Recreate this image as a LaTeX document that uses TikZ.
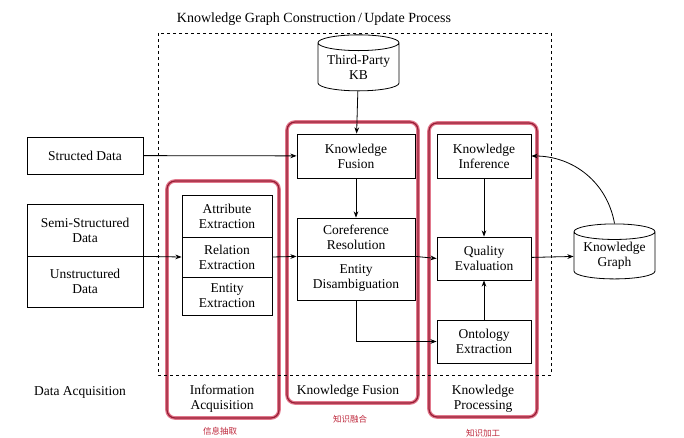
\documentclass[tikz,border=0pt]{standalone}
\usepackage{fontspec}
\setmainfont{Liberation Serif}
\newfontfamily\cjkfont{Noto Sans CJK SC}
\usetikzlibrary{shapes.geometric,arrows.meta,positioning}
\definecolor{grpred}{RGB}{150,28,52}
\definecolor{grpglow}{RGB}{226,120,140}
\definecolor{cnred}{RGB}{190,40,60}

\begin{document}
\begin{tikzpicture}[
        x=1pt, y=-1pt,
        font=\fontsize{13.5}{15}\selectfont,
        >={Stealth[length=2.2mm]},
        box/.style={rectangle, draw, align=center, inner sep=0pt, line width=0.8pt},
        db/.style={cylinder, shape border rotate=90, draw, aspect=0.25, align=center,
            inner sep=0pt, line width=0.8pt, minimum width=81, minimum height=56},
        grp/.style={rectangle, rounded corners=8pt, draw=grpred, line width=1.2pt,
            preaction={draw=grpglow, line width=3.6pt}},
        stage/.style={align=center, inner sep=0pt},
        cn/.style={font=\cjkfont\fontsize{8.5}{9}\selectfont, text=cnred, inner sep=0pt}
    ]
        \useasboundingbox (0,0) rectangle (684,438);

        % stage frames
        \node[grp, minimum width=112, minimum height=237] (acqgrp) at (223,299.5) {};
        \node[grp, minimum width=131, minimum height=281] (fusgrp) at (352.5,262.5) {};
        \node[grp, minimum width=108, minimum height=294] (progrp) at (483,270) {};
        \draw[dashed, line width=0.8pt] (158,33) rectangle (551,375);
        \node[inner sep=0pt, font=\fontsize{14}{15}\selectfont] (title) at (314,19) {Knowledge Graph Construction\,/\,Update Process};

        % data sources
        \node[box, minimum width=116, minimum height=37] (structed) at (85,155.5) {Structed Data};
        \node[box, minimum width=116, minimum height=52] (semi) at (85,230) {Semi-Structured\\Data};
        \node[box, minimum width=116, minimum height=51] (unstr) at (85,281.5) {Unstructured\\Data};

        % information acquisition
        \node[box, minimum width=90, minimum height=42] (attr) at (227,216) {Attribute\\Extraction};
        \node[box, minimum width=90, minimum height=40] (rel) at (227,257) {Relation\\Extraction};
        \node[box, minimum width=90, minimum height=38] (ent) at (227,296) {Entity\\Extraction};

        % knowledge fusion
        \node[db] (kb) at (358.5,67) {Third-Party\\KB};
        \node[box, minimum width=118, minimum height=44] (fusion) at (356,156) {Knowledge\\Fusion};
        \node[box, minimum width=118, minimum height=38] (coref) at (356,237) {Coreference\\Resolution};
        \node[box, minimum width=118, minimum height=44] (disamb) at (356,278) {Entity\\Disambiguation};

        % knowledge processing
        \node[box, minimum width=94, minimum height=44] (infer) at (484,156) {Knowledge\\Inference};
        \node[box, minimum width=94, minimum height=43] (quality) at (484,258.5) {Quality\\Evaluation};
        \node[box, minimum width=94, minimum height=43] (onto) at (484,341.5) {Ontology\\Extraction};
        \node[db, minimum height=55] (kg) at (614.5,255.5) {Knowledge\\Graph};

        % stage labels
        \node[stage] (lbldata) at (80,392) {Data Acquisition};
        \node[stage] (lblacq) at (222,399) {Information\\Acquisition};
        \node[stage] (lblfus) at (348,391) {Knowledge Fusion};
        \node[stage] (lblpro) at (483,399) {Knowledge\\Processing};
        \node[cn] (cnacq) at (220,431) {信息抽取};
        \node[cn] (cnfus) at (350,419) {知识融合};
        \node[cn] (cnpro) at (483,433) {知识加工};

        % flows
        \draw[->, line width=0.8pt] (kb) -- (fusion);
        \draw[->, line width=0.8pt] (structed) -- (fusion);
        \draw[->, line width=0.8pt] (semi.south east) -- (rel.west);
        \draw[->, line width=0.8pt] (rel.east) -- (coref.south west);
        \draw[->, line width=0.8pt] (fusion) -- (coref);
        \draw[->, line width=0.8pt] (coref.south east) -- (quality.west);
        \draw[->, line width=0.8pt] (disamb.south) |- (onto.west);
        \draw[->, line width=0.8pt] (infer) -- (quality);
        \draw[->, line width=0.8pt] (onto) -- (quality);
        \draw[->, line width=0.8pt] (quality) -- (kg);
        \draw[->, line width=0.8pt] (kg.north) to[out=100, in=0] (infer.east);
    \end{tikzpicture}
\end{document}
